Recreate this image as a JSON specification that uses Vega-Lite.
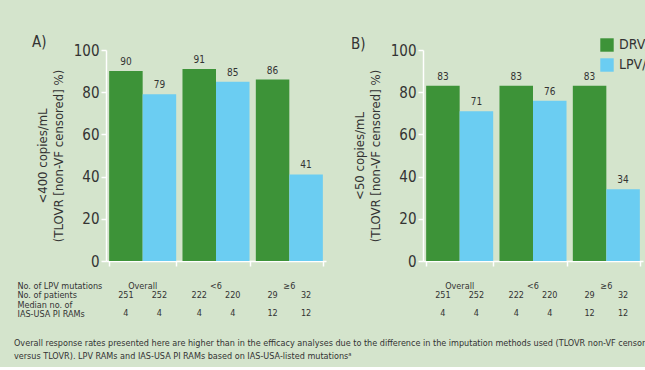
{
  "$schema": "https://vega.github.io/schema/vega-lite/v6.json",
  "background": "#d4e4cc",
  "padding": {"left": 14, "top": 35, "right": 0, "bottom": 5},
  "config": {
    "font": "Liberation Sans Narrow, DejaVu Sans Condensed, Liberation Sans",
    "view": {"stroke": null},
    "axis": {"domainColor": "#ffffff", "tickColor": "#ffffff", "grid": false, "labelColor": "#333333", "titleColor": "#333333", "domainWidth": 1.5, "tickWidth": 1.5},
    "text": {"color": "#333333"}
  },
  "datasets": {
    "bars": [
      {"panel": "A", "group": "Overall", "drug": "DRV/r", "value": 90},
      {"panel": "A", "group": "Overall", "drug": "LPV/r", "value": 79},
      {"panel": "A", "group": "<6", "drug": "DRV/r", "value": 91},
      {"panel": "A", "group": "<6", "drug": "LPV/r", "value": 85},
      {"panel": "A", "group": "≥6", "drug": "DRV/r", "value": 86},
      {"panel": "A", "group": "≥6", "drug": "LPV/r", "value": 41},
      {"panel": "B", "group": "Overall", "drug": "DRV/r", "value": 83},
      {"panel": "B", "group": "Overall", "drug": "LPV/r", "value": 71},
      {"panel": "B", "group": "<6", "drug": "DRV/r", "value": 83},
      {"panel": "B", "group": "<6", "drug": "LPV/r", "value": 76},
      {"panel": "B", "group": "≥6", "drug": "DRV/r", "value": 83},
      {"panel": "B", "group": "≥6", "drug": "LPV/r", "value": 34}
    ],
    "table": [
      {"group": "Overall", "drug": null, "row": "No. of LPV mutations", "text": "Overall"},
      {"group": "<6", "drug": null, "row": "No. of LPV mutations", "text": "<6"},
      {"group": "≥6", "drug": null, "row": "No. of LPV mutations", "text": "≥6"},
      {"group": "Overall", "drug": "DRV/r", "row": "No. of patients", "text": "251"},
      {"group": "Overall", "drug": "LPV/r", "row": "No. of patients", "text": "252"},
      {"group": "<6", "drug": "DRV/r", "row": "No. of patients", "text": "222"},
      {"group": "<6", "drug": "LPV/r", "row": "No. of patients", "text": "220"},
      {"group": "≥6", "drug": "DRV/r", "row": "No. of patients", "text": "29"},
      {"group": "≥6", "drug": "LPV/r", "row": "No. of patients", "text": "32"},
      {"group": "Overall", "drug": "DRV/r", "row": "IAS-USA PI RAMs", "text": "4"},
      {"group": "Overall", "drug": "LPV/r", "row": "IAS-USA PI RAMs", "text": "4"},
      {"group": "<6", "drug": "DRV/r", "row": "IAS-USA PI RAMs", "text": "4"},
      {"group": "<6", "drug": "LPV/r", "row": "IAS-USA PI RAMs", "text": "4"},
      {"group": "≥6", "drug": "DRV/r", "row": "IAS-USA PI RAMs", "text": "12"},
      {"group": "≥6", "drug": "LPV/r", "row": "IAS-USA PI RAMs", "text": "12"}
    ]
  },
  "title": {
    "text": ["Overall response rates presented here are higher than in the efficacy analyses due to the difference in the imputation methods used (TLOVR non-VF censored", "versus TLOVR). LPV RAMs and IAS-USA PI RAMs based on IAS-USA-listed mutationsᵃ"],
    "orient": "bottom", "anchor": "start", "frame": "bounds", "fontSize": 9, "fontWeight": "normal", "lineHeight": 13, "offset": 21, "color": "#333333", "dx": -3
  },
  "spacing": 25,
  "resolve": {"scale": {"color": "independent"}, "legend": {"color": "independent"}},
  "hconcat": [
    {
      "spacing": 12,
      "resolve": {"scale": {"color": "independent"}, "legend": {"color": "independent"}},
      "vconcat": [
        {
          "title": {"text": "A)", "anchor": "start", "frame": "group", "dx": -74, "dy": 24, "fontSize": 15, "fontWeight": "normal", "offset": 5, "baseline": "alphabetic", "color": "#333333"},
          "width": 220, "height": 211,
          "data": {"name": "bars"},
          "transform": [{"filter": "datum.panel == 'A'"}],
          "encoding": {
            "x": {"field": "group", "type": "nominal", "sort": ["Overall", "<6", "≥6"], "scale": {"paddingInner": 0.086, "paddingOuter": 0.043}, "axis": {"title": null, "labels": false, "tickBand": "extent", "tickSize": 5}},
            "xOffset": {"field": "drug", "type": "nominal", "sort": ["DRV/r", "LPV/r"], "scale": {"paddingInner": 0, "paddingOuter": 0}},
            "y": {"field": "value", "type": "quantitative", "scale": {"domain": [0, 100]}, "axis": {"values": [0, 20, 40, 60, 80, 100], "labelFontSize": 15, "tickSize": 5, "labelPadding": 2, "title": ["<400 copies/mL", "(TLOVR [non-VF censored] %)"], "titleFontSize": 13, "titleFontWeight": "normal", "titlePadding": 8, "titleLineHeight": 16}}
          },
          "layer": [
            {"mark": {"type": "bar"}, "encoding": {"color": {"field": "drug", "type": "nominal", "scale": {"domain": ["DRV/r", "LPV/r"], "range": ["#3d9338", "#6bcdf2"]}, "legend": null}}},
            {"mark": {"type": "text", "baseline": "bottom", "dy": -4, "fontSize": 10}, "encoding": {"text": {"field": "value", "type": "quantitative"}}}
          ]
        },
        {
          "width": 220, "height": 37,
          "data": {"name": "table"},
          "encoding": {
            "x": {"field": "group", "type": "nominal", "sort": ["Overall", "<6", "≥6"], "scale": {"paddingInner": 0.086, "paddingOuter": 0.043}, "axis": null},
            "y": {"field": "row", "type": "nominal", "scale": {"domain": ["No. of LPV mutations", "No. of patients", "Median no. of", "IAS-USA PI RAMs"], "paddingInner": 0, "paddingOuter": 0}, "axis": {"title": null, "domain": false, "ticks": false, "labelAlign": "left", "labelPadding": 89, "labelFontSize": 9, "labelColor": "#333333"}}
          },
          "layer": [
            {"transform": [{"filter": "datum.drug != null"}], "mark": {"type": "text", "fontSize": 9}, "encoding": {"xOffset": {"field": "drug", "type": "nominal", "sort": ["DRV/r", "LPV/r"], "scale": {"paddingInner": 0, "paddingOuter": 0}}, "text": {"field": "text", "type": "nominal"}}},
            {"transform": [{"filter": "datum.drug == null"}], "mark": {"type": "text", "fontSize": 9}, "encoding": {"text": {"field": "text", "type": "nominal"}}}
          ]
        }
      ]
    },
    {
      "spacing": 12,
      "resolve": {"scale": {"color": "independent"}, "legend": {"color": "independent"}},
      "vconcat": [
        {
          "title": {"text": "B)", "anchor": "start", "frame": "group", "dx": -72, "dy": 31, "fontSize": 15, "fontWeight": "normal", "offset": 5, "baseline": "alphabetic", "color": "#333333"},
          "width": 220, "height": 211,
          "data": {"name": "bars"},
          "transform": [{"filter": "datum.panel == 'B'"}],
          "encoding": {
            "x": {"field": "group", "type": "nominal", "sort": ["Overall", "<6", "≥6"], "scale": {"paddingInner": 0.086, "paddingOuter": 0.043}, "axis": {"title": null, "labels": false, "tickBand": "extent", "tickSize": 5}},
            "xOffset": {"field": "drug", "type": "nominal", "sort": ["DRV/r", "LPV/r"], "scale": {"paddingInner": 0, "paddingOuter": 0}},
            "y": {"field": "value", "type": "quantitative", "scale": {"domain": [0, 100]}, "axis": {"values": [0, 20, 40, 60, 80, 100], "labelFontSize": 15, "tickSize": 5, "labelPadding": 2, "title": ["<50 copies/mL", "(TLOVR [non-VF censored] %)"], "titleFontSize": 13, "titleFontWeight": "normal", "titlePadding": 8, "titleLineHeight": 16}}
          },
          "layer": [
            {"mark": {"type": "bar"}, "encoding": {"color": {"field": "drug", "type": "nominal", "scale": {"domain": ["DRV/r", "LPV/r"], "range": ["#3d9338", "#6bcdf2"]}, "legend": {"title": null, "orient": "none", "legendX": 177, "legendY": -12, "symbolType": "square", "symbolSize": 180, "symbolStrokeWidth": 0, "rowPadding": 6, "labelFontSize": 14, "labelOffset": 5, "labelColor": "#333333"}}}},
            {"mark": {"type": "text", "baseline": "bottom", "dy": -4, "fontSize": 10}, "encoding": {"text": {"field": "value", "type": "quantitative"}}}
          ]
        },
        {
          "width": 220, "height": 37,
          "data": {"name": "table"},
          "encoding": {
            "x": {"field": "group", "type": "nominal", "sort": ["Overall", "<6", "≥6"], "scale": {"paddingInner": 0.086, "paddingOuter": 0.043}, "axis": null},
            "y": {"field": "row", "type": "nominal", "scale": {"domain": ["No. of LPV mutations", "No. of patients", "Median no. of", "IAS-USA PI RAMs"], "paddingInner": 0, "paddingOuter": 0}, "axis": null}
          },
          "layer": [
            {"transform": [{"filter": "datum.drug != null"}], "mark": {"type": "text", "fontSize": 9}, "encoding": {"xOffset": {"field": "drug", "type": "nominal", "sort": ["DRV/r", "LPV/r"], "scale": {"paddingInner": 0, "paddingOuter": 0}}, "text": {"field": "text", "type": "nominal"}}},
            {"transform": [{"filter": "datum.drug == null"}], "mark": {"type": "text", "fontSize": 9}, "encoding": {"text": {"field": "text", "type": "nominal"}}}
          ]
        }
      ]
    }
  ]
}
